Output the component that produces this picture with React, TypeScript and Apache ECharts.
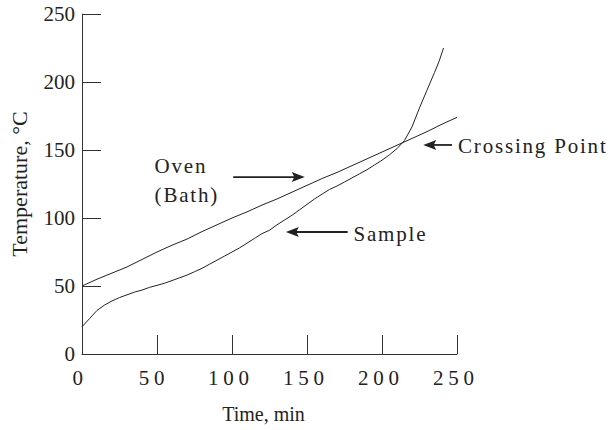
import React, { useEffect, useRef } from "react";
import * as echarts from "echarts";

const timeTicks = [0, 50, 100, 150, 200, 250];
const tempTicks = [0, 50, 100, 150, 200, 250];

const ovenTime = [0, 10, 20, 30, 40, 50, 60, 70, 80, 90, 100, 110, 120, 130, 140, 150, 160, 170, 180, 190, 200, 210, 220, 230, 240, 250];
const ovenTemp = [50, 55, 59.5, 64, 69.5, 75, 80, 84.5, 90, 95, 100, 104.5, 109.5, 114, 119, 124, 129, 133.5, 138.5, 143.5, 148.5, 153.5, 158.5, 163.5, 169, 174];

const sampleTime = [0, 5, 10, 15, 20, 25, 30, 35, 40, 45, 50, 55, 60, 65, 70, 75, 80, 85, 90, 95, 100, 105, 110, 115, 120, 125, 130, 135, 140, 145, 150, 155, 160, 165, 170, 175, 180, 185, 190, 195, 200, 205, 210, 215, 220, 225, 230, 235, 238, 241];
const sampleTemp = [20, 26, 32, 36, 39, 41.5, 43.5, 45.5, 47, 49, 50.5, 52, 54, 56, 58, 60.5, 63, 66, 69, 72, 75, 78, 81.5, 85, 88.5, 91, 95, 98.5, 102, 106, 110, 114, 117.5, 121, 123.5, 126.5, 129.5, 132.5, 135.5, 139, 142.5, 146.5, 151, 157, 167, 181, 194, 207, 215, 225];

const labelTexts = ["Oven", "(Bath)", "Sample", "Crossing Point"];
const labelAnchors = [[48.4, 138.2], [48.4, 116.9], [181, 87.9], [250.7, 152.6]];

const arrowFrom = [[100.8, 130.1], [177.1, 89.7], [246.7, 153.7]];
const arrowTo = [[148.5, 130.1], [135.9, 89.7], [227.5, 153.7]];

const PLAIN = "Liberation Serif";
const ANNOT = "Times New Roman, Liberation Serif";
const TICKF = "Times, Liberation Serif";
const INK = "#222";

const css = `
.ch text[style*="Times New"] { letter-spacing: 1.8px; }
.ch text[style*="Times,"] { letter-spacing: 4.75px; }
`;

export default function App() {
  const ref = useRef<HTMLDivElement>(null);
  useEffect(() => {
    document.body.style.margin = "0";
    const chart = echarts.init(ref.current as HTMLDivElement, null, { renderer: "svg" });
    const ovenData = ovenTime.map((t, i) => [t, ovenTemp[i]]);
    const sampleData = sampleTime.map((t, i) => [t, sampleTemp[i]]);
    const tickRich: any = {};
    [1, 2, 3].forEach((n) => {
      tickRich["d" + n] = {
        fontFamily: TICKF,
        fontSize: 21,
        lineHeight: 21,
        color: INK,
        padding: [0, n === 1 ? 4 : n === 2 ? 6 : 2.5, 0, 0],
      };
    });
    chart.setOption({
      animation: false,
      grid: { left: 80, right: 153, top: 14, bottom: 76 },
      xAxis: {
        type: "value",
        min: timeTicks[0],
        max: timeTicks[timeTicks.length - 1],
        interval: timeTicks[1] - timeTicks[0],
        name: "Time, min",
        nameLocation: "middle",
        nameGap: 50,
        nameTextStyle: { fontFamily: PLAIN, fontSize: 20, color: INK, padding: [0, 12, 0, 0] },
        axisLine: { lineStyle: { color: "#333", width: 1 } },
        axisTick: { inside: true, length: 19, lineStyle: { color: "#333", width: 1 } },
        splitLine: { show: false },
        axisLabel: {
          margin: 13,
          fontFamily: TICKF,
          fontSize: 21,
          formatter: (v: number) => {
            const s = String(v);
            return "{d" + s.length + "|" + s + "}";
          },
          rich: tickRich,
        },
      },
      yAxis: {
        type: "value",
        min: tempTicks[0],
        max: tempTicks[tempTicks.length - 1],
        interval: tempTicks[1] - tempTicks[0],
        name: "Temperature, °C",
        nameLocation: "middle",
        nameGap: 52,
        nameTextStyle: { fontFamily: PLAIN, fontSize: 22, color: INK },
        axisLine: { show: true, lineStyle: { color: "#333", width: 1 } },
        axisTick: { show: true, inside: true, length: 19, lineStyle: { color: "#333", width: 1 } },
        splitLine: { show: false },
        axisLabel: { margin: 7, fontFamily: PLAIN, fontSize: 21, color: INK },
      },
      series: [
        {
          name: "Oven (Bath)",
          type: "line",
          data: ovenData,
          showSymbol: false,
          lineStyle: { color: INK, width: 1 },
          silent: true,
        },
        {
          name: "Sample",
          type: "line",
          data: sampleData,
          showSymbol: false,
          lineStyle: { color: INK, width: 1 },
          silent: true,
        },
      ],
    });

    const px = (p: number[]) => chart.convertToPixel({ gridIndex: 0 }, p) as number[];
    const graphics: any[] = [];
    labelTexts.forEach((t, i) => {
      const [x, y] = px(labelAnchors[i]);
      graphics.push({
        type: "text",
        x,
        y,
        silent: true,
        style: {
          text: t,
          fill: INK,
          fontFamily: ANNOT,
          fontSize: 21,
          align: "left",
          verticalAlign: "middle",
        },
      });
    });
    arrowFrom.forEach((f, i) => {
      const a = px(f);
      const b = px(arrowTo[i]);
      const dx = b[0] - a[0];
      const dy = b[1] - a[1];
      const len = Math.hypot(dx, dy);
      const ux = dx / len;
      const uy = dy / len;
      const nx = -uy;
      const ny = ux;
      const L = 13;
      const W = 5;
      graphics.push({
        type: "line",
        silent: true,
        shape: { x1: a[0], y1: a[1], x2: b[0] - ux * L * 0.7, y2: b[1] - uy * L * 0.7 },
        style: { stroke: INK, lineWidth: 1.8 },
      });
      graphics.push({
        type: "polygon",
        silent: true,
        shape: {
          points: [
            [b[0], b[1]],
            [b[0] - ux * L + nx * W, b[1] - uy * L + ny * W],
            [b[0] - ux * L * 0.8, b[1] - uy * L * 0.8],
            [b[0] - ux * L - nx * W, b[1] - uy * L - ny * W],
          ],
        },
        style: { fill: INK },
      });
    });
    chart.setOption({ graphic: graphics });
    return () => chart.dispose();
  }, []);
  return (
    <div>
      <style>{css}</style>
      <div ref={ref} className="ch" style={{ width: 610, height: 430 }} />
    </div>
  );
}
